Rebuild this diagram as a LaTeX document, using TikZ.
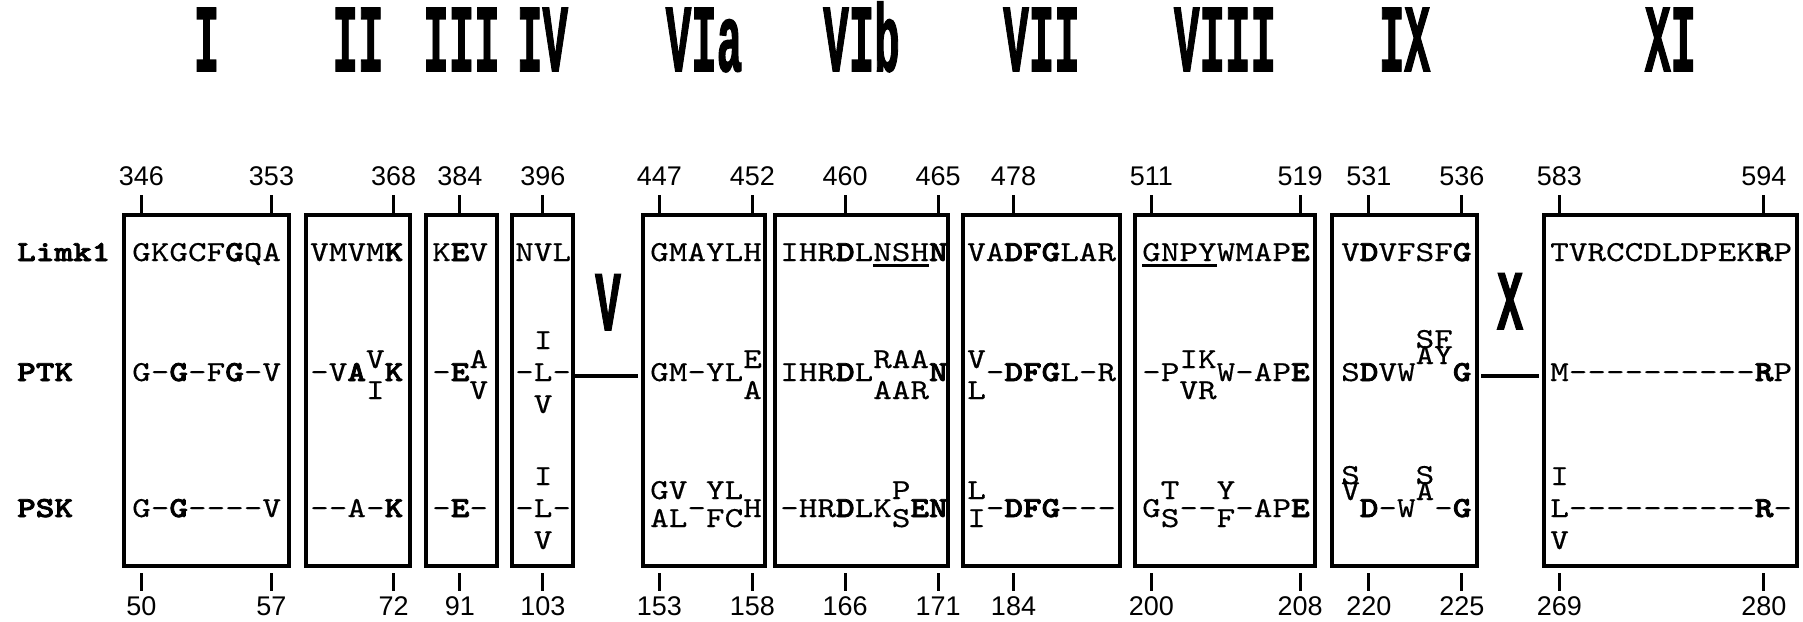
\documentclass[tikz,border=0pt]{standalone}
\usepackage{fontspec}
\usepackage{graphicx}
\usetikzlibrary{fit}
\newfontfamily\seqfont[Extension=.otf,BoldFont=lmmonolt10-bold,FakeStretch=1.222,Ligatures=TeXOff,
  UprightFeatures={FakeBold=0.4},BoldFeatures={FakeBold=2.6}]{lmmono10-regular}
\newfontfamily\numfont{Liberation Sans}
\newfontfamily\romfont[BoldFeatures={FakeBold=2}]{Liberation Mono}

% residues stacked above and below the running line
\newcommand\stk[4]{\makebox[0pt][l]{\raisebox{#1pt}{#3}}\raisebox{-#2pt}{#4}}
\newcommand\tstk[2]{\stk{13}{18}{#1}{#2}}
\newcommand\sstk[2]{\stk{18}{10}{#1}{#2}}
\newcommand\tri[3]{\makebox[0pt][l]{\raisebox{32pt}{#1}}\makebox[0pt][l]{\raisebox{-32pt}{#3}}#2}
\newcommand\hi[2]{\makebox[0pt][l]{\raisebox{33pt}{#1}}\raisebox{17pt}{#2}}
\newcommand\uline[1]{\setbox0\hbox{#1}\rlap{\rule[-5.5pt]{\wd0}{2.5pt}}\box0}
% subdomain labels
\newcommand\romlab[1]{{\romfont\bfseries\fontsize{42.5}{42.5}\selectfont\smash{\scalebox{1}[2.25]{#1}}}}
\newcommand\gaplab[1]{{\romfont\bfseries\fontsize{42.5}{42.5}\selectfont\smash{\scalebox{1}[1.98]{#1}}}}
% numbered positions: name, x, Limk1 number, PSK number
\newcommand\postick[4]{%
  \node[num] (u#1) at (#2,185) {#3};
  \node[num] (d#1) at (#2,615) {#4};
  \coordinate (ut#1) at (#2,195);
  \coordinate (dt#1) at (#2,573);
  \draw[tk] (ut#1) -- ++(0,18);
  \draw[tk] (dt#1) -- ++(0,18);}

\begin{document}
\begin{tikzpicture}[x=1pt,y=-1pt,
  dbox/.style={draw,line width=3.5pt,inner sep=0pt,outer sep=0pt},
  seq/.style={anchor=base west,inner sep=0pt,font=\seqfont\fontsize{29}{29}\selectfont},
  rowlab/.style={anchor=base west,inner sep=0pt,font=\seqfont\bfseries\fontsize{29}{29}\selectfont},
  num/.style={anchor=base,inner sep=0pt,font=\numfont\fontsize{27}{27}\selectfont},
  tk/.style={line width=3pt},
  link/.style={line width=4pt},
  rom/.style={anchor=base,inner sep=0pt}]
\useasboundingbox (0,0) rectangle (1803,621);

% subdomain boxes
\node[dbox,fit={(124,215) (289,566)}]   (bI)    {};
\node[dbox,fit={(306,215) (410,566)}]   (bII)   {};
\node[dbox,fit={(426,215) (497,566)}]   (bIII)  {};
\node[dbox,fit={(512,215) (573,566)}]   (bIV)   {};
\node[dbox,fit={(643,215) (765,566)}]   (bVIa)  {};
\node[dbox,fit={(775,215) (948,566)}]   (bVIb)  {};
\node[dbox,fit={(963,215) (1120,566)}]  (bVII)  {};
\node[dbox,fit={(1135,215) (1315,566)}] (bVIII) {};
\node[dbox,fit={(1332,215) (1477,566)}] (bIX)   {};
\node[dbox,fit={(1544,215) (1797,566)}] (bXI)   {};

% subdomain numerals
\node[rom] (rI)    at (bI.north |- 0,71)    {\romlab{I}};
\node[rom] (rII)   at (bII.north |- 0,71)   {\romlab{II}};
\node[rom] (rIII)  at (bIII.north |- 0,71)  {\romlab{III}};
\node[rom] (rIV)   at (bIV.north |- 0,71)   {\romlab{IV}};
\node[rom] (rVIa)  at (bVIa.north |- 0,71)  {\romlab{VIa}};
\node[rom] (rVIb)  at (bVIb.north |- 0,71)  {\romlab{VIb}};
\node[rom] (rVII)  at (bVII.north |- 0,71)  {\romlab{VII}};
\node[rom] (rVIII) at (bVIII.north |- 0,71) {\romlab{VIII}};
\node[rom] (rIX)   at (bIX.north |- 0,71)   {\romlab{IX}};
\node[rom] (rXI)   at (bXI.north |- 0,71)   {\romlab{XI}};

% gaps between boxes
\node[rom] (gV) at (608,330)  {\gaplab{V}};
\node[rom] (gX) at (1510,329) {\gaplab{X}};
\draw[link,shorten >=5pt] ([yshift=14.5pt]bIV.east) -- ([yshift=14.5pt]bVIa.west);
\draw[link,shorten <=4pt,shorten >=5pt] ([yshift=14.5pt]bIX.east) -- ([yshift=14.5pt]bXI.west);

% row labels
\node[rowlab] (lLim) at (17,261) {Limk1};
\node[rowlab] (lPTK) at (17,381) {PTK};
\node[rowlab] (lPSK) at (17,517) {PSK};

% subdomain I
\node[seq] (sIa) at (132,261) {GKGCF\textbf{G}QA};
\node[seq] (sIb) at (132,381) {G-\textbf{G}-F\textbf{G}-V};
\node[seq] (sIc) at (132,517) {G-\textbf{G}----V};
% subdomain II
\node[seq] (sIIa) at (310,261) {VMVM\textbf{K}};
\node[seq] (sIIb) at (310,381) {-V\textbf{A}\tstk{V}{I}\textbf{K}};
\node[seq] (sIIc) at (310,517) {--A-\textbf{K}};
% subdomain III
\node[seq] (sIIIa) at (432,261) {K\textbf{E}V};
\node[seq] (sIIIb) at (432,381) {-\textbf{E}\tstk{A}{V}};
\node[seq] (sIIIc) at (432,517) {-\textbf{E}-};
% subdomain IV
\node[seq] (sIVa) at (515,261) {NVL};
\node[seq] (sIVb) at (515,381) {-\tri{I}{L}{V}-};
\node[seq] (sIVc) at (515,517) {-\tri{I}{L}{V}-};
% subdomain VIa
\node[seq] (sVIaa) at (650,261) {GMAYLH};
\node[seq] (sVIab) at (650,381) {GM-YL\tstk{E}{A}};
\node[seq] (sVIac) at (650,517) {\sstk{GV}{AL}-\sstk{YL}{FC}H};
% subdomain VIb
\node[seq] (sVIba) at (780,261) {IHR\textbf{D}L\uline{NSH}\textbf{N}};
\node[seq] (sVIbb) at (780,381) {IHR\textbf{D}L\tstk{RAA}{AAR}\textbf{N}};
\node[seq] (sVIbc) at (780,517) {-HR\textbf{D}LK\sstk{P}{S}\textbf{EN}};
% subdomain VII
\node[seq] (sVIIa) at (967,261) {VA\textbf{DFG}LAR};
\node[seq] (sVIIb) at (967,381) {\tstk{V}{L}-\textbf{DFG}L-R};
\node[seq] (sVIIc) at (967,517) {\sstk{L}{I}-\textbf{DFG}---};
% subdomain VIII
\node[seq] (sVIIIa) at (1142,261) {\uline{GNPY}WMAP\textbf{E}};
\node[seq] (sVIIIb) at (1142,381) {-P\tstk{IK}{VR}W-AP\textbf{E}};
\node[seq] (sVIIIc) at (1142,517) {G\sstk{T}{S}--\sstk{Y}{F}-AP\textbf{E}};
% subdomain IX
\node[seq] (sIXa) at (1341,261) {V\textbf{D}VFSF\textbf{G}};
\node[seq] (sIXb) at (1341,381) {S\textbf{D}VW\hi{SF}{AY}\textbf{G}};
\node[seq] (sIXc) at (1341,517) {\hi{S}{V}\textbf{D}-W\hi{S}{A}-\textbf{G}};
% subdomain XI
\node[seq] (sXIa) at (1550,261) {TVRCCDLDPEK\textbf{R}P};
\node[seq] (sXIb) at (1550,381) {M----------\textbf{R}P};
\node[seq] (sXIc) at (1550,517) {\tri{I}{L}{V}----------\textbf{R}-};

% residue numbers, Limk1 above and PSK below
\postick{a}{141.3}{346}{50}
\postick{b}{271.5}{353}{57}
\postick{c}{393.7}{368}{72}
\postick{d}{459.9}{384}{91}
\postick{e}{542.9}{396}{103}
\postick{f}{659.3}{447}{153}
\postick{g}{752.3}{452}{158}
\postick{h}{845.1}{460}{166}
\postick{i}{938.1}{465}{171}
\postick{j}{1013.5}{478}{184}
\postick{k}{1151.3}{511}{200}
\postick{l}{1300.1}{519}{208}
\postick{m}{1368.9}{531}{220}
\postick{n}{1461.9}{536}{225}
\postick{o}{1559.3}{583}{269}
\postick{p}{1763.9}{594}{280}
\end{tikzpicture}
\end{document}
